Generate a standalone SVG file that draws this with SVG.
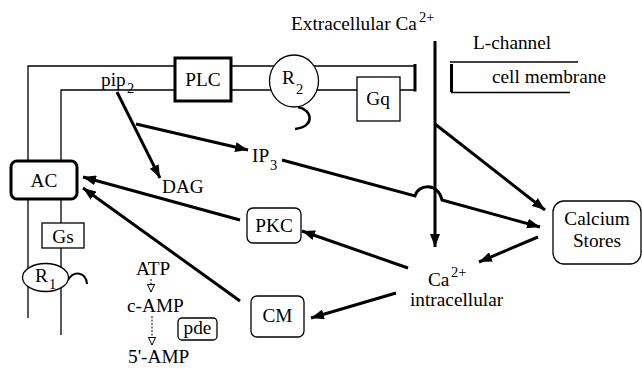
<svg xmlns="http://www.w3.org/2000/svg" width="642" height="369" viewBox="0 0 642 369" font-family="'Liberation Serif', 'DejaVu Serif', serif" font-size="19.3">
<style>
text{font-family:'Liberation Serif','DejaVu Serif',serif;font-size:19.3px;fill:#000}
.sub{font-size:14.5px}
.mem{fill:none;stroke:#000;stroke-width:1.3}
.box{fill:#fff;stroke:#000;stroke-width:1.3}
.tbox{fill:#fff;stroke:#000;stroke-width:3}
.arr{fill:none;stroke:#000;stroke-width:3;marker-end:url(#ah)}
.darr{fill:none;stroke:#000;stroke-width:1;stroke-dasharray:2 1.5;marker-end:url(#oh)}
.c{text-anchor:middle}
</style>
<defs>
<marker id="ah" markerUnits="userSpaceOnUse" markerWidth="14" markerHeight="10" refX="13" refY="5" orient="auto">
<path d="M0,0 L13,5 L0,10 z" fill="#000"/>
</marker>
<marker id="oh" markerUnits="userSpaceOnUse" markerWidth="10" markerHeight="10" refX="8" refY="4" orient="auto">
<path d="M0.5,0.5 L8,4 L0.5,7.5 z" fill="#fff" stroke="#000" stroke-width="1"/>
</marker>
</defs>

<g id="membrane">
<polyline class="mem" points="28,161 28,66 415,66"/>
<polyline class="mem" points="61,161 61,90 415,90"/>
<line x1="28" y1="199" x2="28" y2="318" class="mem"/>
<line x1="61" y1="199" x2="61" y2="335" class="mem"/>
<line x1="415" y1="64" x2="415" y2="91.5" stroke="#000" stroke-width="3"/>
<line x1="450" y1="62" x2="578" y2="62" class="mem"/>
<line x1="451.5" y1="64" x2="451.5" y2="92" stroke="#000" stroke-width="3"/>
<polyline class="mem" points="451,92.5 570,92.5"/>
<text x="473" y="49">L-channel</text>
<text x="492" y="83">cell membrane</text>
<text x="291" y="30">Extracellular Ca</text>
<text x="419" y="22" class="sub">2+</text>
</g>

<g id="connectors">
<path class="arr" d="M117,92 L160,178"/>
<path class="arr" d="M136,124 L248,150"/>
<path class="arr" d="M282,160 L415,196 C418,184 438,182 442,200 L540,227"/>
<path class="arr" d="M435,41 L435,247"/>
<path class="arr" d="M435,124 L545,210"/>
<path class="arr" d="M538,237 L479,262"/>
<path class="arr" d="M408,268 L302,231"/>
<path class="arr" d="M396,293 L311,318"/>
<path class="arr" d="M240,220 L83,177"/>
<path class="arr" d="M240,301 L83,188"/>
<path class="darr" d="M151,279 L151,292"/>
<path class="darr" d="M152,316 L152,345"/>
</g>

<g id="PLC">
<rect x="175" y="58" width="56" height="43" class="tbox" stroke-width="2.5"/>
<text x="203" y="86" class="c">PLC</text>
</g>

<g id="R2">
<path d="M298,107 C313,110 315,127 295,129" fill="none" stroke="#000" stroke-width="2.5"/>
<ellipse cx="294" cy="81" rx="24.5" ry="26" class="box" stroke-width="2.5"/>
<text x="282" y="84">R</text>
<text x="296" y="94" class="sub">2</text>
</g>

<g id="Gq">
<rect x="357" y="77" width="43" height="44" class="box"/>
<text x="378" y="105" class="c">Gq</text>
</g>

<g id="pip2">
<text x="101" y="86">pip</text>
<text x="127" y="93" class="sub">2</text>
</g>

<g id="IP3">
<text x="252" y="162">IP</text>
<text x="270" y="170" class="sub">3</text>
</g>

<g id="DAG">
<text x="162" y="193">DAG</text>
</g>

<g id="AC">
<rect x="11" y="161" width="66" height="38" rx="6" class="tbox" stroke-width="2.5"/>
<text x="44" y="187" class="c">AC</text>
</g>

<g id="Gs">
<rect x="42" y="223" width="42" height="25" class="box"/>
<text x="63" y="243" class="c">Gs</text>
</g>

<g id="R1">
<path d="M68,280 C74,270 86,272 87,284" fill="none" stroke="#000" stroke-width="2"/>
<ellipse cx="45.5" cy="277.5" rx="23" ry="14" class="box" stroke-width="2.5"/>
<text x="35" y="282">R</text>
<text x="49" y="289" class="sub">1</text>
</g>

<g id="PKC">
<rect x="247" y="208" width="54" height="35" rx="6" class="box"/>
<text x="274" y="232" class="c">PKC</text>
</g>

<g id="CM">
<rect x="251" y="296" width="53" height="41" rx="6" class="box"/>
<text x="277.5" y="322" class="c">CM</text>
</g>

<g id="CalciumStores">
<rect x="553" y="201" width="88" height="63" rx="11" class="box"/>
<text x="597" y="225" class="c">Calcium</text>
<text x="597" y="247" class="c">Stores</text>
</g>

<g id="CaIntra">
<text x="428" y="286">Ca</text>
<text x="451" y="277" class="sub">2+</text>
<text x="410" y="306">intracellular</text>
</g>

<g id="ATP">
<text x="136" y="275">ATP</text>
</g>
<g id="cAMP">
<text x="127" y="312">c-AMP</text>
</g>
<g id="pde">
<rect x="178" y="318" width="39" height="22" rx="4" class="box"/>
<text x="197.5" y="334" class="c">pde</text>
</g>
<g id="AMP5">
<text x="128" y="363">5'-AMP</text>
</g>
</svg>
